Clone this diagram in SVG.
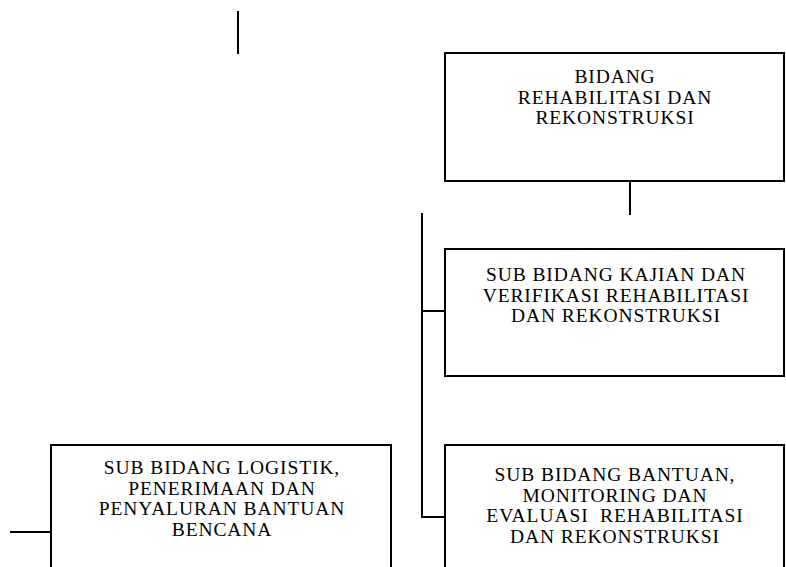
<svg xmlns="http://www.w3.org/2000/svg" width="786" height="567" viewBox="0 0 786 567">
  <style>
    .box { fill: #ffffff; stroke: #000000; stroke-width: 2; }
    .link { fill: none; stroke: #000000; stroke-width: 2; }
    .label { font-family: "Liberation Serif", "Times New Roman", serif; font-size: 19.5px; letter-spacing: 0.9px; fill: #000000; text-anchor: middle; }
  </style>
  <rect width="786" height="567" fill="#ffffff"/>

  <!-- connectors -->
  <g id="connectors">
    <line class="link" x1="238" y1="11" x2="238" y2="54"/>
    <line class="link" x1="630" y1="181" x2="630" y2="215"/>
    <polyline class="link" points="422,213 422,517 445,517"/>
    <line class="link" x1="422" y1="311" x2="445" y2="311"/>
    <line class="link" x1="10" y1="532" x2="51" y2="532"/>
  </g>

  <!-- head of division -->
  <g id="bidang-rehab-rekon">
    <rect class="box" x="445" y="53" width="339" height="128"/>
    <text class="label" x="615" y="83">BIDANG</text>
    <text class="label" x="615" y="103.5">REHABILITASI DAN</text>
    <text class="label" x="615" y="124">REKONSTRUKSI</text>
  </g>

  <g id="sub-kajian-verifikasi">
    <rect class="box" x="445" y="249" width="339" height="127"/>
    <text class="label" x="616" y="281">SUB BIDANG KAJIAN DAN</text>
    <text class="label" x="616" y="301.5">VERIFIKASI REHABILITASI</text>
    <text class="label" x="616" y="322">DAN REKONSTRUKSI</text>
  </g>

  <g id="sub-bantuan-monev">
    <rect class="box" x="445" y="445" width="339" height="130"/>
    <text class="label" x="615" y="481">SUB BIDANG BANTUAN,</text>
    <text class="label" x="615" y="501.5">MONITORING DAN</text>
    <text class="label" x="615" y="522" xml:space="preserve">EVALUASI  REHABILITASI</text>
    <text class="label" x="615" y="542.5">DAN REKONSTRUKSI</text>
  </g>

  <g id="sub-logistik">
    <rect class="box" x="51" y="445" width="340" height="130"/>
    <text class="label" x="222" y="474">SUB BIDANG LOGISTIK,</text>
    <text class="label" x="222" y="494.5">PENERIMAAN DAN</text>
    <text class="label" x="222" y="515">PENYALURAN BANTUAN</text>
    <text class="label" x="222" y="535.5">BENCANA</text>
  </g>
</svg>
